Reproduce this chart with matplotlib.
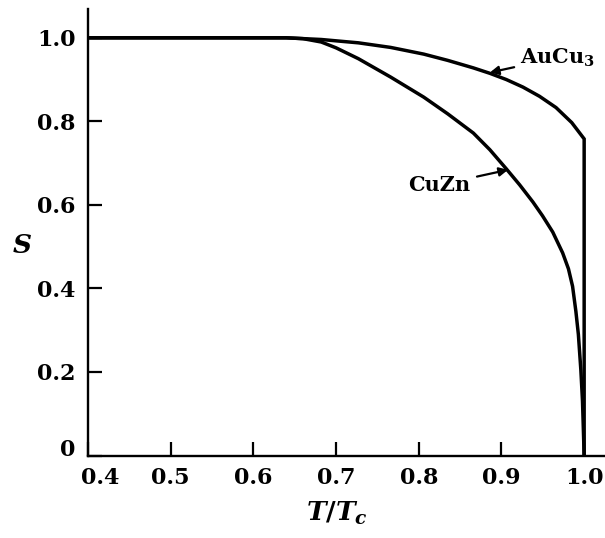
import matplotlib
matplotlib.use("Agg")
import matplotlib.pyplot as plt
from matplotlib.transforms import ScaledTranslation

# Long-range order parameter S versus reduced temperature T/Tc
t_cuzn = [0.40, 0.64, 0.66, 0.682, 0.70, 0.727, 0.766, 0.806, 0.835, 0.866,
          0.886, 0.906, 0.922, 0.938, 0.9496, 0.962, 0.974, 0.981, 0.986,
          0.990, 0.993, 0.996, 0.998, 1.0]
s_cuzn = [1.0, 1.0, 0.998, 0.990, 0.976, 0.950, 0.906, 0.858, 0.818, 0.772,
          0.732, 0.686, 0.648, 0.607, 0.574, 0.535, 0.485, 0.447, 0.405,
          0.345, 0.290, 0.205, 0.130, 0.0]

t_aucu3 = [0.40, 0.64, 0.682, 0.727, 0.766, 0.806, 0.835, 0.866, 0.886,
           0.906, 0.926, 0.946, 0.966, 0.985, 1.0, 1.0]
s_aucu3 = [1.0, 1.0, 0.996, 0.988, 0.977, 0.961, 0.946, 0.928, 0.915,
           0.900, 0.882, 0.860, 0.833, 0.797, 0.758, 0.0]

x_ticks = [0.4, 0.5, 0.6, 0.7, 0.8, 0.9, 1.0]
x_labels = ["0.4", "0.5", "0.6", "0.7", "0.8", "0.9", "1.0"]
y_ticks = [0.0, 0.2, 0.4, 0.6, 0.8, 1.0]
y_labels = ["0", "0.2", "0.4", "0.6", "0.8", "1.0"]

plt.rcParams["font.family"] = ["DejaVu Serif"]
plt.rcParams["font.weight"] = "bold"
plt.rcParams["mathtext.fontset"] = "custom"
plt.rcParams["mathtext.it"] = "DejaVu Serif:italic:bold"
plt.rcParams["mathtext.rm"] = "DejaVu Serif:bold"
plt.rcParams["mathtext.bf"] = "DejaVu Serif:bold"

W, H = 605, 538
fig = plt.figure(figsize=(W / 100, H / 100), dpi=100)
ax = fig.add_axes([88 / W, 1 - 455.5 / H, (604 - 88) / W, (455.5 - 9) / H])

lw = 2.5
ax.plot(t_aucu3, s_aucu3, color="black", lw=lw, solid_joinstyle="miter",
        solid_capstyle="butt", clip_on=False)
ax.plot(t_cuzn, s_cuzn, color="black", lw=lw, solid_capstyle="butt",
        solid_joinstyle="round", clip_on=False)

ax.set_xlim(0.404, 1.024)
ax.set_ylim(0.0, 1.069)

for side in ("top", "right"):
    ax.spines[side].set_visible(False)
for side in ("left", "bottom"):
    ax.spines[side].set_linewidth(1.7)

ax.set_xticks(x_ticks)
ax.set_xticklabels(x_labels)
ax.set_yticks(y_ticks)
ax.set_yticklabels(y_labels)
ax.tick_params(direction="in", length=10, width=1.6, labelsize=16, pad=8)
ax.tick_params(axis="y", pad=9)

# nudge the first x label clear of the corner, and lift the y zero label
first = ax.get_xticklabels()[0]
first.set_transform(first.get_transform() + ScaledTranslation(12 / 100, 0, fig.dpi_scale_trans))
zero = ax.get_yticklabels()[0]
zero.set_transform(zero.get_transform() + ScaledTranslation(0, 8 / 100, fig.dpi_scale_trans))

fig.text(22 / W, 1 - 245 / H, r"$S$", fontsize=19, ha="center", va="center")
fig.text(337 / W, 1 - 513 / H, r"$T/T_c$", fontsize=19, ha="center", va="center")

ax.annotate(r"AuCu$_\mathbf{3}$", xy=(0.886, 0.917), xytext=(0.922, 0.952),
            fontsize=15, ha="left", va="center",
            arrowprops=dict(arrowstyle="-|>", color="black", lw=1.6,
                            mutation_scale=13, shrinkA=2, shrinkB=0))
ax.annotate("CuZn", xy=(0.908, 0.684), xytext=(0.787, 0.648),
            fontsize=15, ha="left", va="center",
            arrowprops=dict(arrowstyle="-|>", color="black", lw=1.6,
                            mutation_scale=13, shrinkA=3, shrinkB=0))

fig.savefig("out.png", dpi=100, facecolor="white")
